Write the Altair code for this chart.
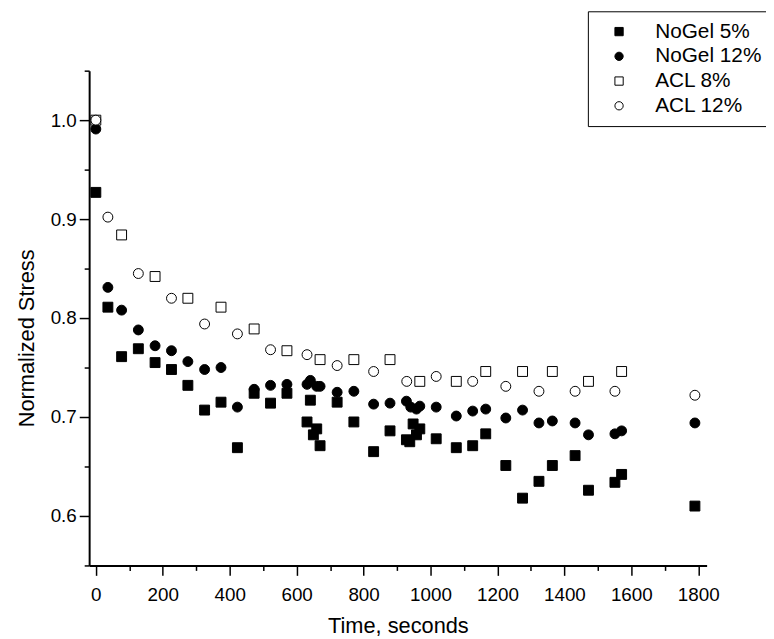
import altair as alt
import pandas as pd

series = ["NoGel 5%", "NoGel 12%", "ACL 8%", "ACL 12%"]

nogel5_t = [0, 36, 77, 127, 177, 226, 275, 325, 374, 423, 473, 522, 571, 631, 641, 650, 660, 670,
            721, 771, 830, 879, 928, 938, 948, 958, 968, 1017, 1077, 1126, 1165, 1225, 1275, 1324,
            1364, 1432, 1472, 1551, 1571, 1790]
nogel5_v = [0.927, 0.811, 0.761, 0.769, 0.755, 0.748, 0.732, 0.707, 0.715, 0.669, 0.724, 0.714, 0.724,
            0.695, 0.717, 0.682, 0.688, 0.671, 0.715, 0.695, 0.665, 0.686, 0.677, 0.675, 0.693, 0.682,
            0.688, 0.678, 0.669, 0.671, 0.683, 0.651, 0.618, 0.635, 0.651, 0.661, 0.626, 0.634, 0.642,
            0.610]

nogel12_t = [0, 36, 77, 127, 177, 226, 275, 325, 374, 423, 473, 522, 571, 631, 641, 660, 670, 721,
             771, 830, 879, 928, 941, 958, 968, 1017, 1077, 1126, 1165, 1225, 1275, 1324, 1364, 1432,
             1472, 1551, 1571, 1790]
nogel12_v = [0.991, 0.831, 0.808, 0.788, 0.772, 0.767, 0.756, 0.748, 0.750, 0.710, 0.728, 0.732, 0.733,
             0.733, 0.737, 0.731, 0.731, 0.725, 0.726, 0.713, 0.714, 0.716, 0.710, 0.708, 0.711, 0.710,
             0.701, 0.706, 0.708, 0.699, 0.707, 0.694, 0.696, 0.694, 0.682, 0.683, 0.686, 0.694]

acl8_t = [0, 77, 177, 275, 374, 473, 571, 670, 771, 879, 968, 1077, 1165, 1275, 1364, 1472, 1571]
acl8_v = [1.0, 0.884, 0.842, 0.820, 0.811, 0.789, 0.767, 0.758, 0.758, 0.758, 0.736, 0.736, 0.746,
          0.746, 0.746, 0.736, 0.746]

acl12_t = [0, 36, 127, 226, 325, 423, 522, 631, 721, 830, 929, 1017, 1126, 1225, 1324, 1432, 1551, 1790]
acl12_v = [1.0, 0.902, 0.845, 0.820, 0.794, 0.784, 0.768, 0.763, 0.752, 0.746, 0.736, 0.741, 0.736,
           0.731, 0.726, 0.726, 0.726, 0.722]

x_ticks = list(range(0, 1801, 100))
y_ticks = [0.55, 0.6, 0.65, 0.7, 0.75, 0.8, 0.85, 0.9, 0.95, 1.0, 1.05]

rows = []
for name, ts, vs in [(series[0], nogel5_t, nogel5_v), (series[1], nogel12_t, nogel12_v),
                     (series[2], acl8_t, acl8_v), (series[3], acl12_t, acl12_v)]:
    for t, v in zip(ts, vs):
        rows.append({"time": t, "stress": v, "series": name})
df = pd.DataFrame(rows)

FONT = "Liberation Sans"

legend = alt.Legend(title=None, orient="none", legendX=504, legendY=-60,
                    strokeColor="black", fillColor="white", padding=10,
                    symbolOffset=11, labelOffset=26, rowPadding=3,
                    labelFont=FONT, labelFontSize=21, labelColor="black",
                    symbolSize=70, symbolStrokeWidth=1)

chart = alt.Chart(df).mark_point(opacity=1, fillOpacity=1, strokeWidth=1, size=100).encode(
    x=alt.X("time:Q",
            scale=alt.Scale(domain=[-20, 1825], nice=False, zero=False),
            axis=alt.Axis(title="Time, seconds", values=x_ticks, format="d",
                          labelExpr="datum.value % 200 == 0 ? datum.label : ''",
                          tickSize={"condition": {"test": "datum.value % 200 == 0", "value": 10}, "value": 5},
                          labelPadding=10, titlePadding=12)),
    y=alt.Y("stress:Q",
            scale=alt.Scale(domain=[0.55, 1.05], nice=False, zero=False),
            axis=alt.Axis(title="Normalized Stress", values=y_ticks, titleY=270,
                          labelExpr="round(datum.value * 20) % 2 == 0 ? format(datum.value, '.1f') : ''",
                          tickSize={"condition": {"test": "round(datum.value * 20) % 2 == 0", "value": 10}, "value": 5},
                          labelPadding=3, titlePadding=12)),
    shape=alt.Shape("series:N", scale=alt.Scale(domain=series, range=["square", "circle", "square", "circle"]),
                    legend=legend),
    fill=alt.Fill("series:N", scale=alt.Scale(domain=series, range=["black", "black", "white", "white"]),
                  legend=legend),
    stroke=alt.Stroke("series:N", scale=alt.Scale(domain=series, range=["black", "black", "black", "black"]),
                      legend=legend),
).properties(
    width=624, height=500,
    padding={"left": 82, "top": 60, "right": 60, "bottom": 71},
    autosize=alt.AutoSizeParams(type="none"),
).configure_view(stroke=None).configure_axis(
    grid=False, domainColor="black", domainWidth=2, tickColor="black", tickWidth=1.5,
    labelFont=FONT, labelFontSize=19, labelColor="black",
    titleFont=FONT, titleFontSize=22, titleFontWeight="normal", titleColor="black",
)

chart.save("out.html", embed_options={"renderer": "svg", "actions": False})
